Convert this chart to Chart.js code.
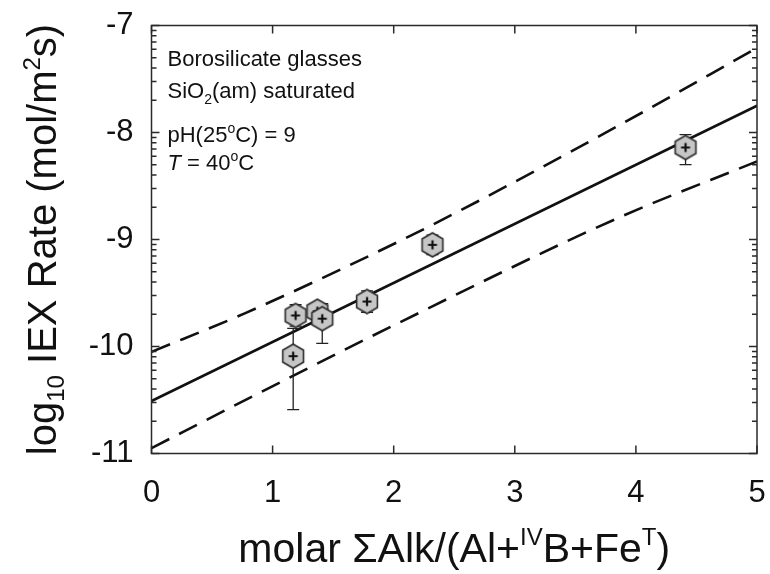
<!DOCTYPE html>
<html><head><meta charset="utf-8">
<script src="https://cdn.jsdelivr.net/npm/chart.js@4"></script>
<style>html,body{margin:0;padding:0;background:#fff}#wrap{width:770px;height:574px;position:relative}</style>
</head><body><div id="wrap"><canvas id="c" width="770" height="574"></canvas></div>
<script>
// ---- data ----
const xTicks = [0, 1, 2, 3, 4, 5];
const yTicks = [-11, -10, -9, -8, -7];
const ptX   = [1.19, 1.17, 1.37, 1.41, 1.78, 2.32, 4.41];
const ptY   = [-9.71, -10.09, -9.67, -9.74, -9.58, -9.05, -8.14];
const errHi = [-9.61, -9.83, -9.62, -9.60, -9.48, -8.96, -8.02];
const errLo = [-9.81, -10.59, -9.72, -9.97, -9.68, -9.14, -8.30];
const fitX = [0, 5];
const fitY = [-10.51, -7.75];
const upX = [0, 0.77, 2.04, 2.70, 3.85, 5];
const upY = [-10.05, -9.69, -9.02, -8.64, -7.94, -7.21];
const loX = [0, 0.81, 2.04, 3.85, 5];
const loY = [-10.95, -10.48, -9.78, -8.80, -8.27];
const annoLines = ["Borosilicate glasses", "SiO2(am) saturated", "pH(25oC) = 9", "T = 40oC"];

const FONT = "'Liberation Sans', Arial, Helvetica, sans-serif";
const INK = '#111';

function pts(xs, ys){ return xs.map((x,i)=>({x:x, y:ys[i]})); }

function makeHex(){
  const c = document.createElement('canvas');
  c.width = 28; c.height = 30;
  const g = c.getContext('2d');
  const cx = 14, cy = 15, r = 12;
  g.beginPath();
  for (let k=0;k<6;k++){
    const a = (-90 + 60*k) * Math.PI/180;
    const px = cx + r*Math.cos(a), py = cy + r*Math.sin(a);
    if (k===0) g.moveTo(px,py); else g.lineTo(px,py);
  }
  g.closePath();
  g.fillStyle = '#c6c6c6'; g.fill();
  g.lineWidth = 1.6; g.strokeStyle = '#2a2a2a'; g.stroke();
  g.beginPath();
  g.moveTo(cx-4.5, cy); g.lineTo(cx+4.5, cy);
  g.moveTo(cx, cy-4.5); g.lineTo(cx, cy+4.5);
  g.lineWidth = 2.2; g.strokeStyle = '#111'; g.stroke();
  return c;
}

// draw a run of text pieces: {t, size, dy, italic}
function drawRich(g, x, y, pieces, align){
  let total = 0;
  pieces.forEach(p=>{ g.font = (p.italic?'italic ':'') + p.size + 'px ' + FONT; p.w = g.measureText(p.t).width; total += p.w; });
  let cx = align==='center' ? x - total/2 : x;
  g.textAlign = 'left'; g.textBaseline = 'alphabetic';
  pieces.forEach(p=>{ g.font = (p.italic?'italic ':'') + p.size + 'px ' + FONT; g.fillText(p.t, cx, y + (p.dy||0)); cx += p.w; });
}

const decor = {
  id: 'decor',
  beforeDatasetDraw(chart, args){
    if (args.index !== 3) return;
    const g = chart.ctx, xs = chart.scales.x, ys = chart.scales.y;
    g.save();
    g.strokeStyle = '#222'; g.lineWidth = 1.3;
    ptX.forEach((x,i)=>{
      const px = xs.getPixelForValue(x);
      const ph = ys.getPixelForValue(errHi[i]);
      const pl = ys.getPixelForValue(errLo[i]);
      g.beginPath();
      g.moveTo(px, ph); g.lineTo(px, pl);
      g.moveTo(px-6, ph); g.lineTo(px+6, ph);
      g.moveTo(px-6, pl); g.lineTo(px+6, pl);
      g.stroke();
    });
    g.restore();
  },
  afterDraw(chart){
    const g = chart.ctx, a = chart.chartArea, xs = chart.scales.x, ys = chart.scales.y;
    g.save();
    // frame
    g.strokeStyle = '#2a2a2a'; g.lineWidth = 1.5;
    g.strokeRect(a.left, a.top, a.right-a.left, a.bottom-a.top);
    // x ticks (inward, bottom and top)
    g.beginPath();
    xTicks.forEach(v=>{
      const px = xs.getPixelForValue(v);
      g.moveTo(px, a.bottom); g.lineTo(px, a.bottom-8);
      g.moveTo(px, a.top); g.lineTo(px, a.top+8);
    });
    // y major ticks
    yTicks.forEach(v=>{
      const py = ys.getPixelForValue(v);
      g.moveTo(a.left, py); g.lineTo(a.left+8, py);
      g.moveTo(a.right, py); g.lineTo(a.right-8, py);
    });
    // y minor ticks: log-decade subdivisions
    for (let d=-11; d<-7; d++){
      for (let m=2; m<=9; m++){
        const py = ys.getPixelForValue(d + Math.log10(m));
        g.moveTo(a.left, py); g.lineTo(a.left+5, py);
        g.moveTo(a.right, py); g.lineTo(a.right-5, py);
      }
    }
    g.stroke();

    g.fillStyle = INK;
    // annotation
    const ax = a.left + 16;
    drawRich(g, ax, 66, [{t:annoLines[0], size:22}], 'left');
    drawRich(g, ax, 98, [{t:'SiO', size:22},{t:'2', size:14, dy:6},{t:'(am) saturated', size:22}], 'left');
    drawRich(g, ax, 142, [{t:'pH(25', size:22},{t:'o', size:14, dy:-9},{t:'C) = 9', size:22}], 'left');
    drawRich(g, ax, 170, [{t:'T', size:22, italic:true},{t:' = 40', size:22},{t:'o', size:14, dy:-9},{t:'C', size:22}], 'left');

    // x title
    drawRich(g, (a.left+a.right)/2, 562, [
      {t:'molar \u03A3Alk/(Al+', size:41},
      {t:'IV', size:24, dy:-17},
      {t:'B+Fe', size:41},
      {t:'T', size:24, dy:-17},
      {t:')', size:41}
    ], 'center');

    // y title
    g.save();
    g.translate(56, (a.top+a.bottom)/2);
    g.rotate(-Math.PI/2);
    drawRich(g, 0, 0, [
      {t:'log', size:40},
      {t:'10', size:24, dy:8},
      {t:' IEX Rate (mol/m', size:40},
      {t:'2', size:24, dy:-16},
      {t:'s)', size:40}
    ], 'center');
    g.restore();
    g.restore();
  }
};

function noPad(s){ s.paddingTop = 0; s.paddingBottom = 0; s.paddingLeft = 0; s.paddingRight = 0; }

new Chart(document.getElementById('c'), {
  type: 'scatter',
  data: { datasets: [
    { label:'fit', data: pts(fitX, fitY), showLine:true, borderColor:INK, borderWidth:2.6, pointRadius:0, fill:false, order:3 },
    { label:'upper', data: pts(upX, upY), showLine:true, borderColor:INK, borderWidth:2.6, borderDash:[20,11], pointRadius:0, fill:false, cubicInterpolationMode:'monotone', order:2 },
    { label:'lower', data: pts(loX, loY), showLine:true, borderColor:INK, borderWidth:2.6, borderDash:[20,11], pointRadius:0, fill:false, cubicInterpolationMode:'monotone', order:1 },
    { label:'glasses', data: pts(ptX, ptY), showLine:false, pointStyle: makeHex(), pointRadius:12, order:0 }
  ]},
  options: {
    responsive:false, animation:false, events:[],
    plugins:{ legend:{display:false}, tooltip:{enabled:false} },
    layout:{ padding:{ left:0, right:8.5, top:25.5, bottom:0 } },
    scales:{
      x:{ type:'linear', min:0, max:5,
          afterBuildTicks: s => { s.ticks = xTicks.map(v=>({value:v})); },
          afterFit: s => { s.height = 120.5; noPad(s); },
          grid:{ display:false, drawTicks:false }, border:{ display:false },
          ticks:{ padding:21, color:INK, font:{ family:FONT, size:31 } } },
      y:{ type:'linear', min:-11, max:-7,
          afterBuildTicks: s => { s.ticks = yTicks.map(v=>({value:v})); },
          afterFit: s => { s.width = 151.5; noPad(s); },
          grid:{ display:false, drawTicks:false }, border:{ display:false },
          ticks:{ padding:18, color:INK, font:{ family:FONT, size:31 } } }
    }
  },
  plugins:[decor]
});
</script>
</body></html>
